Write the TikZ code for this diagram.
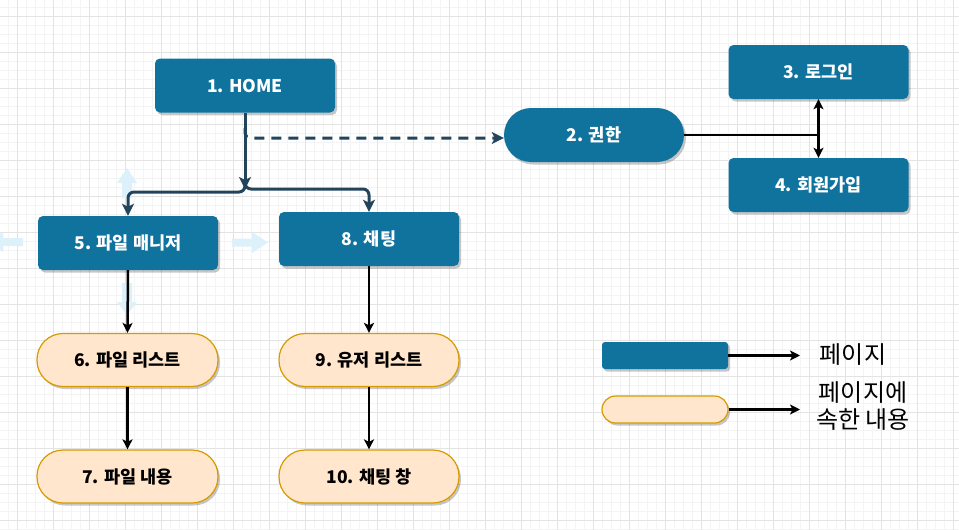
\documentclass[tikz,border=0pt]{standalone}
\usepackage{fontspec}
\setmainfont{Noto Sans CJK KR}
\usetikzlibrary{arrows.meta,shadows,calc}
\definecolor{pblue}{HTML}{10739E}
\definecolor{pdark}{HTML}{23445D}
\definecolor{ofill}{HTML}{FFE6CC}
\definecolor{ostroke}{HTML}{D79B00}
\definecolor{gmajor}{HTML}{E3E3E3}
\definecolor{gminor}{HTML}{F4F4F4}
\definecolor{hover}{HTML}{DDF1FB}
\begin{document}
\begin{tikzpicture}[x=1pt,y=-1pt,
  shade/.style={drop shadow={shadow xshift=2pt,shadow yshift=-2.5pt,opacity=0.22,fill=black}},
  pagebox/.style={shade,fill=pblue,draw=none,rounded corners=5pt,inner sep=0pt,
    minimum width=180pt,minimum height=54pt,text=white,
    font=\fontsize{17.5}{21}\selectfont\bfseries},
  pagepill/.style={pagebox,rounded corners=27pt},
  contentpill/.style={shade,fill=ofill,draw=ostroke,line width=1.2pt,rounded corners=26pt,inner sep=0pt,
    minimum width=180pt,minimum height=53pt,text=black,
    font=\fontsize{17.5}{21}\selectfont\bfseries},
  tipd/.style={-{Stealth[length=12pt,width=12pt,inset=3pt]}},
  tipb/.style={-{Stealth[length=10pt,width=10pt,inset=2.5pt]}},
  darkline/.style={draw=pdark,line width=3pt},
  blackline/.style={draw=black,line width=2.5pt},
  legendtext/.style={text=black,font=\fontsize{24}{27}\selectfont,align=center,inner sep=0pt}]
\useasboundingbox (0,0) rectangle (959,530);
\fill[white] (0,0) rectangle (959,530);
% grid
\foreach \i in {0,...,106} \draw[gminor,line width=0.8pt] ({8+9*\i},0) -- ({8+9*\i},530);
\foreach \i in {0,...,58} \draw[gminor,line width=0.8pt] (0,{7+9*\i}) -- (959,{7+9*\i});
\foreach \i in {0,...,26} \draw[gmajor,line width=1pt] ({17+36*\i},0) -- ({17+36*\i},530);
\foreach \i in {0,...,14} \draw[gmajor,line width=1pt] (0,{16+36*\i}) -- (959,{16+36*\i});
% hover arrows around 5
\fill[hover] (127,168) -- (137,183) -- (132,183) -- (132,198) -- (122,198) -- (122,183) -- (117,183) -- cycle;
\fill[hover] (127,315) -- (137,302) -- (132,302) -- (132,283) -- (122,283) -- (122,302) -- (117,302) -- cycle;
\fill[hover] (268,242.5) -- (252,232) -- (252,238.5) -- (232,238.5) -- (232,246.5) -- (252,246.5) -- (252,253) -- cycle;
\fill[hover] (-12,242) -- (3,232) -- (3,238) -- (23,238) -- (23,246) -- (3,246) -- (3,252) -- cycle;
% nodes
\node[pagebox] (n1) at (245,85.5) {1. HOME};
\node[pagepill] (n2) at (594,135) {2. 권한};
\node[pagebox] (n3) at (818.5,72) {3. 로그인};
\node[pagebox] (n4) at (818.5,185) {4. 회원가입};
\node[pagebox] (n5) at (128,243) {5. 파일 매니저};
\node[pagebox] (n8) at (369,239) {8. 채팅};
\node[contentpill,minimum width=181pt] (n6) at (127.5,360) {6. 파일 리스트};
\node[contentpill,minimum width=181pt] (n7) at (127.5,476.5) {7. 파일 내용};
\node[contentpill] (n9) at (369,360) {9. 유저 리스트};
\node[contentpill] (n10) at (369,476.5) {10. 채팅 창};
\node[pagebox,minimum width=126pt,minimum height=27pt,rounded corners=3pt] (lg1) at (665,355.5) {};
\node[contentpill,minimum width=126pt,minimum height=27pt,rounded corners=13.5pt] (lg2) at (665,409.5) {};
\node[legendtext] (t1) at (853,355) {페이지};
\node[legendtext] (t2) at (863,406) {페이지에\\속한 내용};
% connectors
\coordinate (jt) at (245,189);
\coordinate (j) at (245,183);
\coordinate (d0) at (245,128);
\draw[darkline,rounded corners=6pt,tipd] (j) |- (128,192) -- (n5.north);
\draw[darkline,rounded corners=6pt,tipd] (j) |- (369,189) -- (n8.north);
\draw[darkline,tipd] (n1.south) -- (jt);
\draw[darkline,dash pattern=on 10pt off 7pt,rounded corners=5pt,tipd] (d0) |- ([yshift=-3pt]n2.west);
\coordinate (k) at (818.5,135);
\draw[blackline,rounded corners=4pt] (n2.east) -- (k);
\draw[blackline,tipb] (k) -- (n3.south);
\draw[blackline,tipb] (k) -- (n4.north);
\draw[blackline,tipb] (n5.south) -- (n6.north);
\draw[blackline,tipb] (n6.south) -- (n7.north);
\draw[blackline,tipb] (n8.south) -- (n9.north);
\draw[blackline,tipb] (n9.south) -- (n10.north);
\coordinate (la1) at (800,355.5);
\coordinate (la2) at (800,409.5);
\draw[blackline,tipb] (lg1.east) -- (la1);
\draw[blackline,tipb] (lg2.east) -- (la2);
\end{tikzpicture}
\end{document}
